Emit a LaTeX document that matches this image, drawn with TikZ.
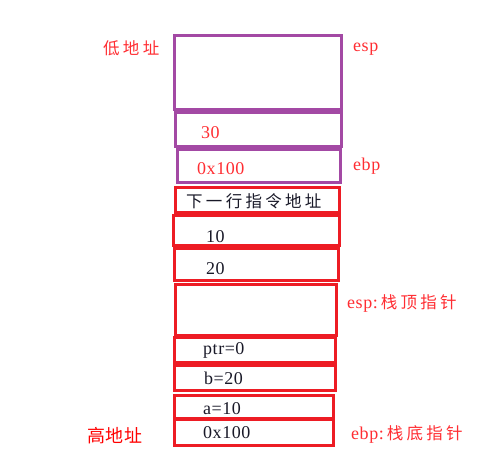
\documentclass[tikz,border=0pt]{standalone}
\usepackage{fontspec}
\setmainfont{Liberation Serif}[LetterSpace=3]
\newfontfamily\cjk{Noto Sans CJK SC}[LetterSpace=20]
\newfontfamily\cjkhi{Noto Sans CJK SC}[LetterSpace=4]
\definecolor{ppl}{RGB}{163,73,164}
\definecolor{rd}{RGB}{237,28,36}
\definecolor{lbl}{RGB}{255,45,50}
\definecolor{ink}{RGB}{25,25,40}
\newcommand{\cjksz}{\cjk\fontsize{16.5}{18}\selectfont}
\tikzset{
  pbox/.style={draw=ppl, line width=3pt, inner sep=0pt},
  rbox/.style={draw=rd, line width=3pt, inner sep=0pt},
  txt/.style={anchor=west, inner sep=0pt, font=\fontsize{18}{20}\selectfont},
  ctxt/.style={anchor=west, inner sep=0pt, font=\cjksz},
}
\begin{document}
\begin{tikzpicture}[x=1pt,y=-1pt]
\useasboundingbox[fill=white] (0,0) rectangle (504,457);
% purple boxes
\node (b1) [pbox, minimum width=167.5pt, minimum height=73.5pt] at (257.75,72.75) {};
\node (b2) [pbox, minimum width=166pt, minimum height=34pt] at (258.5,130) {};
\node (b3) [pbox, minimum width=163.5pt, minimum height=33.5pt] at (258.75,166.25) {};
% red boxes
\node (b4) [rbox, minimum width=164pt, minimum height=25.7pt] at (257.5,200.15) {};
\node (b5) [rbox, minimum width=165.5pt, minimum height=30pt] at (256.25,230.5) {};
\node (b6) [rbox, minimum width=163.3pt, minimum height=31.8pt] at (256.35,264.6) {};
\node (b7) [rbox, minimum width=160.8pt, minimum height=50.8pt] at (256.1,310.1) {};
\node (b8) [rbox, minimum width=160.8pt, minimum height=25pt] at (255.1,349.7) {};
\node (b9) [rbox, minimum width=160.8pt, minimum height=25.5pt] at (255.1,378.25) {};
\node (b10) [rbox, minimum width=159pt, minimum height=23.5pt] at (254.2,406.95) {};
\node (b11) [rbox, minimum width=158.3pt, minimum height=26.2pt] at (253.85,432.6) {};
% texts in boxes
\node (t2) [txt, text=lbl] at (201,133) {30};
\node (t3) [txt, text=lbl] at (197,169) {0x100};
\node (t4) [ctxt, text=ink] at (186,201) {下一行指令地址};
\node (t5) [txt, text=ink] at (206,237) {10};
\node (t6) [txt, text=ink] at (206,269) {20};
\node (t8) [txt, text=ink] at (203,350) {ptr=0};
\node (t9) [txt, text=ink] at (204,378) {b=20};
\node (t10) [txt, text=ink] at (203,409) {a=10};
\node (t11) [txt, text=ink] at (203,433) {0x100};
% side labels
\node (low) [ctxt, text=lbl] at (103,48) {低地址};
\node (high) [anchor=west, inner sep=0pt, text=red, font=\cjkhi\fontsize{18}{20}\selectfont] at (87,436) {高地址};
\node (esp1) [txt, text=lbl] at (353,49) {esp};
\node (ebp1) [txt, text=lbl] at (353,166) {ebp};
\node (esp2) [txt, text=lbl] at (347,303) {esp:\hspace{3pt}{\cjksz 栈顶指针}};
\node (ebp2) [txt, text=lbl] at (351,434) {ebp:\hspace{3pt}{\cjksz 栈底指针}};
\end{tikzpicture}
\end{document}
